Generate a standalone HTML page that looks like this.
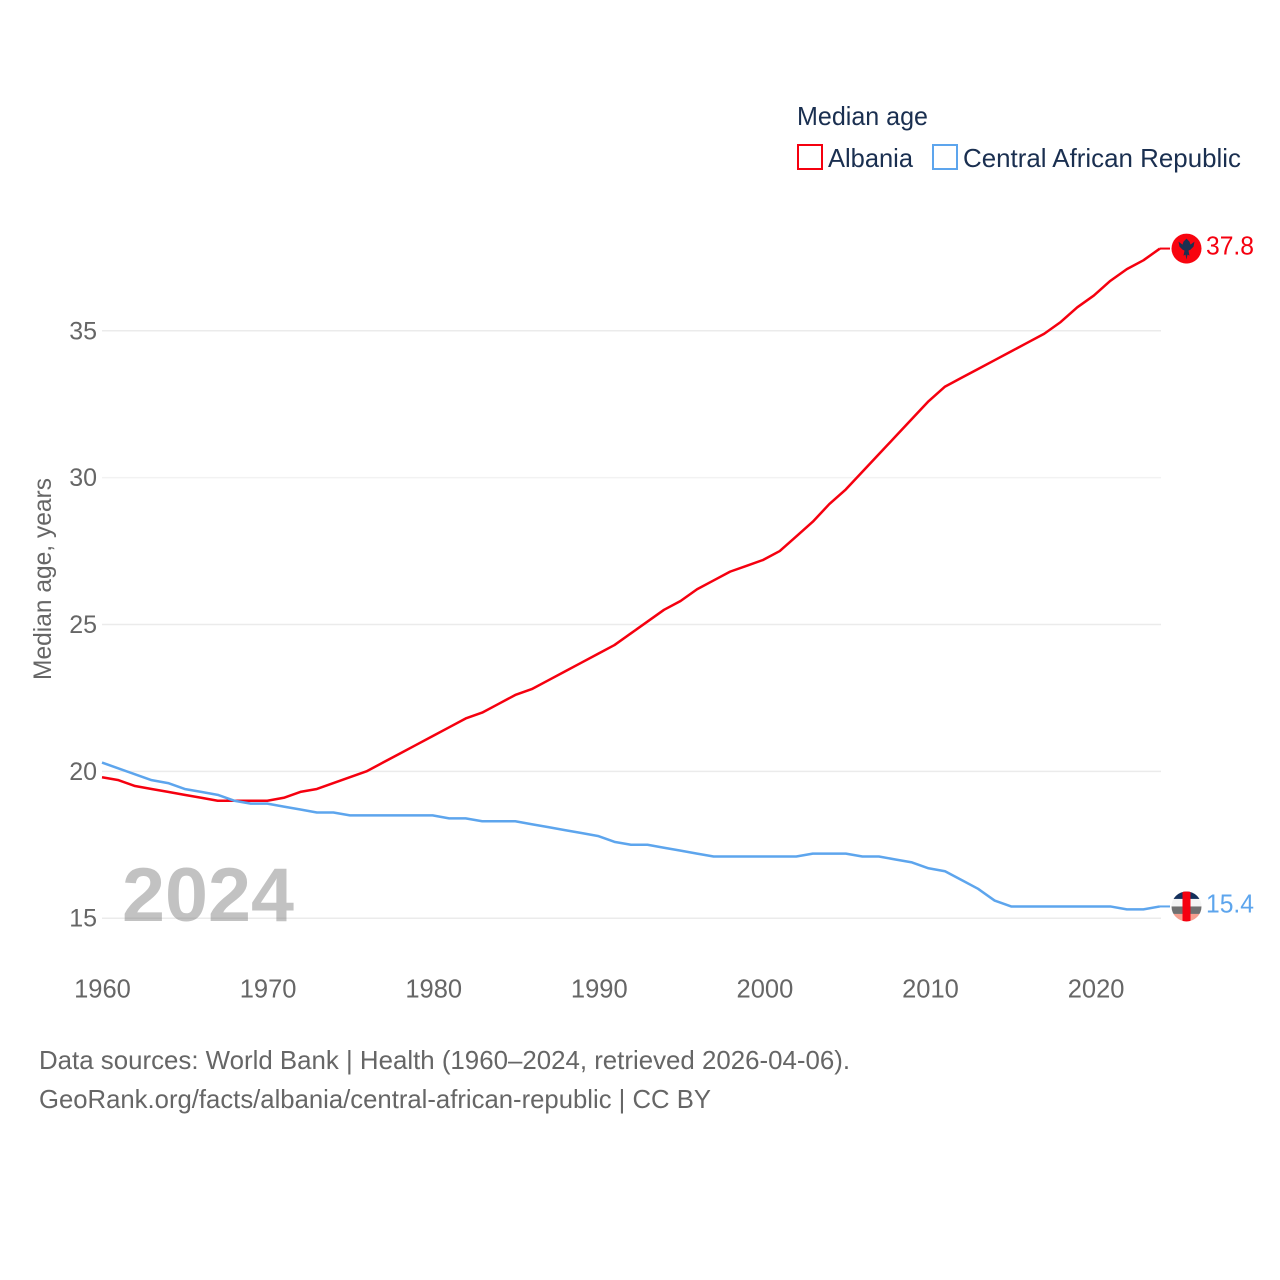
<!DOCTYPE html>
<html lang="en">
<head>
<meta charset="utf-8">
<title>Median age: Albania and Central African Republic</title>
<style>
html,body{margin:0;padding:0;background:#fff;}
svg{display:block;font-family:"Liberation Sans",sans-serif;}
</style>
</head>
<body>
<svg id="chart" width="1280" height="1280" viewBox="0 0 1280 1280" xmlns="http://www.w3.org/2000/svg">
  <defs>
    <clipPath id="clip-al"><circle id="clip-al-c" cx="1186.5" cy="248.5" r="15"></circle></clipPath>
    <clipPath id="clip-cf"><circle id="clip-cf-c" cx="1186.5" cy="906.5" r="15"></circle></clipPath>
  </defs>
  <rect width="1280" height="1280" fill="#fff"></rect>
  <g id="grid"></g>
  <g id="yticks"></g>
  <g id="xticks"></g>
  <text transform="translate(51,680) rotate(-90)" font-size="25" fill="#666" textLength="202" lengthAdjust="spacingAndGlyphs">Median age, years</text>
  <text x="122" y="921" font-size="76" font-weight="700" fill="rgba(120,120,120,0.45)" textLength="172" lengthAdjust="spacingAndGlyphs">2024</text>
  <g id="series"></g>
  <g id="flags"></g>
  <g>
    <text x="797" y="125" font-size="26" fill="#1a2f50" textLength="131" lengthAdjust="spacingAndGlyphs">Median age</text>
    <rect x="798" y="145" width="24" height="24" fill="none" stroke="#f5000f" stroke-width="2"></rect>
    <text x="828" y="167" font-size="26" fill="#1a2f50" textLength="85" lengthAdjust="spacingAndGlyphs">Albania</text>
    <rect x="933" y="145" width="24" height="24" fill="none" stroke="#5da5ed" stroke-width="2"></rect>
    <text x="963" y="167" font-size="26" fill="#1a2f50" textLength="278" lengthAdjust="spacingAndGlyphs">Central African Republic</text>
  </g>
  <text x="39" y="1069" font-size="26" fill="#666" textLength="811" lengthAdjust="spacingAndGlyphs">Data sources: World Bank | Health (1960–2024, retrieved 2026-04-06).</text>
  <text x="39" y="1108" font-size="26" fill="#666" textLength="672" lengthAdjust="spacingAndGlyphs">GeoRank.org/facts/albania/central-african-republic | CC BY</text>
</svg>
<script>
const firstYear = 1960;
const albania = [19.8,19.7,19.5,19.4,19.3,19.2,19.1,19.0,19.0,19.0,19.0,19.1,19.3,19.4,19.6,19.8,20.0,20.3,20.6,20.9,21.2,21.5,21.8,22.0,22.3,22.6,22.8,23.1,23.4,23.7,24.0,24.3,24.7,25.1,25.5,25.8,26.2,26.5,26.8,27.0,27.2,27.5,28.0,28.5,29.1,29.6,30.2,30.8,31.4,32.0,32.6,33.1,33.4,33.7,34.0,34.3,34.6,34.9,35.3,35.8,36.2,36.7,37.1,37.4,37.8];
const centralAfricanRepublic = [20.3,20.1,19.9,19.7,19.6,19.4,19.3,19.2,19.0,18.9,18.9,18.8,18.7,18.6,18.6,18.5,18.5,18.5,18.5,18.5,18.5,18.4,18.4,18.3,18.3,18.3,18.2,18.1,18.0,17.9,17.8,17.6,17.5,17.5,17.4,17.3,17.2,17.1,17.1,17.1,17.1,17.1,17.1,17.2,17.2,17.2,17.1,17.1,17.0,16.9,16.7,16.6,16.3,16.0,15.6,15.4,15.4,15.4,15.4,15.4,15.4,15.4,15.3,15.3,15.4];
const yTickValues = [15,20,25,30,35];
const xTickValues = [1960,1970,1980,1990,2000,2010,2020];

const NS = 'http://www.w3.org/2000/svg';
function xScale(year){ return 102 + (year - 1960) * 16.53; }
function xTickScale(year){ return 102.5 + (year - 1960) * 16.56; }
function yScale(v){ return 918.2 - (v - 15) * 29.37; }
function make(tag, attrs, parent){
  const el = document.createElementNS(NS, tag);
  for (const k in attrs) el.setAttribute(k, attrs[k]);
  parent.appendChild(el);
  return el;
}

const grid = document.getElementById('grid');
const yticks = document.getElementById('yticks');
yTickValues.forEach(function(v){
  const line = make('line', {x1:102, x2:1161, y1:yScale(v), y2:yScale(v), stroke: v === 30 ? '#f2f2f2' : '#ebebeb', 'stroke-width':1.5}, grid);
  
  
  const t = make('text', {x:97, y:yScale(v) + 8.5, 'text-anchor':'end', 'font-size':25, fill:'#666'}, yticks);
  
  
  t.textContent = v;
});

const xticks = document.getElementById('xticks');
xTickValues.forEach(function(y){
  const t = make('text', {x:xTickScale(y), y:997.5, 'text-anchor':'middle', 'font-size':25.5, fill:'#666'}, xticks);
  
  
  t.textContent = y;
});

function pathFor(values){
  return values.map(function(v, i){
    return (i ? 'L' : 'M') + xScale(firstYear + i).toFixed(2) + ' ' + yScale(v).toFixed(2);
  }).join(' ');
}
const series = document.getElementById('series');
const lastYear = firstYear + albania.length - 1;

const redLine = make('path', {d:pathFor(albania), fill:'none', stroke:'#f5000f', 'stroke-width':2.5, 'stroke-linejoin':'round'}, series);


const blueLine = make('path', {d:pathFor(centralAfricanRepublic), fill:'none', stroke:'#5da5ed', 'stroke-width':2.5, 'stroke-linejoin':'round'}, series);



const flags = document.getElementById('flags');
const alY = yScale(albania[albania.length - 1]);
const cfY = yScale(centralAfricanRepublic[centralAfricanRepublic.length - 1]);
const cx = 1186.5;

const alConn = make('line', {x1:xScale(lastYear), x2:1170, y1:alY, y2:alY, stroke:'#f5000f', 'stroke-width':2}, flags);


const cfConn = make('line', {x1:xScale(lastYear), x2:1170, y1:cfY, y2:cfY, stroke:'#5da5ed', 'stroke-width':2}, flags);



document.getElementById('clip-al-c').setAttribute('cy', alY);
document.getElementById('clip-cf-c').setAttribute('cy', cfY);

const alFlag = make('g', {'clip-path':'url(#clip-al)'}, flags);


make('rect', {x:cx-15, y:alY-15, width:30, height:30, fill:'#f8040f'}, alFlag);
make('path', {d:'M'+cx+' '+(alY-10)+' l3 3 l1 3 l4 -3 l-1 5 l-3 3 l-2 1 l1 5 l-2 -1 l-1 5 l-1 -5 l-2 1 l1 -5 l-2 -1 l-3 -3 l-1 -5 l4 3 l1 -3 z', fill:'#1d3050'}, alFlag);

const cfFlag = make('g', {'clip-path':'url(#clip-cf)'}, flags);


make('rect', {x:cx-15, y:cfY-15, width:30, height:7.5, fill:'#14305c'}, cfFlag);
make('rect', {x:cx-15, y:cfY-7.5, width:30, height:7.5, fill:'#f4f4f4'}, cfFlag);
make('rect', {x:cx-15, y:cfY, width:30, height:7.5, fill:'#707070'}, cfFlag);
make('rect', {x:cx-15, y:cfY+7.5, width:30, height:7.5, fill:'#f5a090'}, cfFlag);
make('rect', {x:cx-4, y:cfY-15, width:8, height:30, fill:'#f5000f'}, cfFlag);

const alLabel = make('text', {x:1206, y:alY+6, 'font-size':26, fill:'#f5000f', textLength:48, lengthAdjust:'spacingAndGlyphs'}, flags);


alLabel.textContent = albania[albania.length - 1].toFixed(1);
const cfLabel = make('text', {x:1206, y:cfY+6, 'font-size':26, fill:'#5da5ed', textLength:48, lengthAdjust:'spacingAndGlyphs'}, flags);


cfLabel.textContent = centralAfricanRepublic[centralAfricanRepublic.length - 1].toFixed(1);
</script>
</body>
</html>
